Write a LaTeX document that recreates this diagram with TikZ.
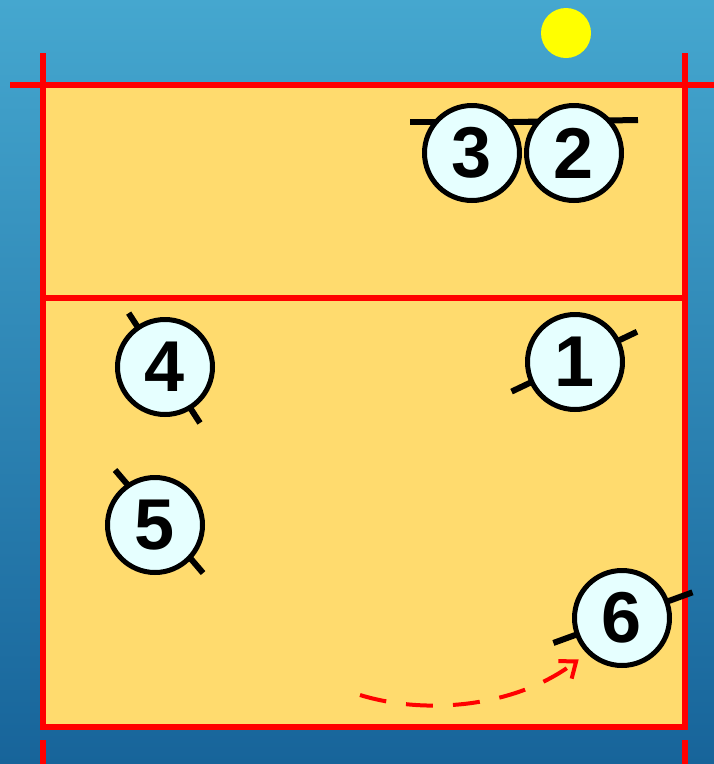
\documentclass[tikz,border=0pt]{standalone}
\usepackage{fontspec}
\setsansfont{Liberation Sans}
\usepackage{tikz}
\usetikzlibrary{arrows.meta,backgrounds}
\definecolor{SkyTop}{RGB}{69,167,207}
\definecolor{SkyBottom}{RGB}{23,100,154}
\definecolor{CourtSand}{RGB}{255,219,110}
\definecolor{PlayerIce}{RGB}{230,255,255}
\definecolor{LineRed}{RGB}{255,0,0}
\definecolor{BallYellow}{RGB}{255,255,0}

\begin{document}
\begin{tikzpicture}[x=1pt, y=-1pt,
  player/.style={circle, draw=black, fill=PlayerIce, line width=5pt, minimum size=95pt, inner sep=0pt, font=\sffamily\bfseries\fontsize{72}{72}\selectfont},
  ball/.style={circle, fill=BallYellow, minimum size=50pt, inner sep=0pt},
  shoulder/.style={black, line width=6pt},
  courtline/.style={LineRed, line width=6pt},
  run/.style={-{Straight Barb[length=14pt,width=22pt,line width=4pt]}, LineRed, line width=4pt, dash pattern=on 27pt off 20pt}
]
  \useasboundingbox (0,0) rectangle (714,764);

  % court
  \begin{scope}[on background layer]
    \shade[top color=SkyTop, bottom color=SkyBottom] (0,0) rectangle (714,764);
    \fill[CourtSand] (43,85) rectangle (685,727);
    \draw[courtline] (10,85) -- (714,85);
    \draw[courtline] (43,53) -- (43,727) -- (685,727) -- (685,53);
    \draw[courtline] (43,298) -- (685,298);
    \draw[courtline] (43,740) -- (43,764);
    \draw[courtline] (685,740) -- (685,764);
  \end{scope}

  \node[ball] (ball) at (566,33) {};

  \node[player] (p3) at (472,153) {3};
  \node[player] (p2) at (574,153) {2};
  \node[player] (p4) at (165,367) {4};
  \node[player] (p1) at (575,362) {1};
  \node[player] (p5) at (155,525) {5};
  \node[player] (p6) at (622,618) {6};

  % shoulders
  \begin{scope}[on background layer]
    \draw[shoulder] ([shift={(-62pt,31pt)}]p3.center) -- ([shift={(62pt,31pt)}]p3.center);
    \draw[shoulder] ([shift={(-62pt,31pt)}]p2.center) -- ([shift={(64pt,33pt)}]p2.center);
    \draw[shoulder] ([shift={(124:65pt)}]p4.center) -- ([shift={(-58:66pt)}]p4.center);
    \draw[shoulder] ([shift={(126:68pt)}]p5.center) -- ([shift={(-45:68pt)}]p5.center);
    \draw[shoulder] ([shift={(205:70pt)}]p1.center) -- ([shift={(26:69pt)}]p1.center);
    \draw[shoulder] ([shift={(200:73pt)}]p6.center) -- ([shift={(20:75pt)}]p6.center);
  \end{scope}

  \coordinate (runstart) at (360,695);
  \draw[run, shorten >=10pt] (runstart) .. controls (425,715) and (515,708) .. (p6.225);
\end{tikzpicture}
\end{document}
